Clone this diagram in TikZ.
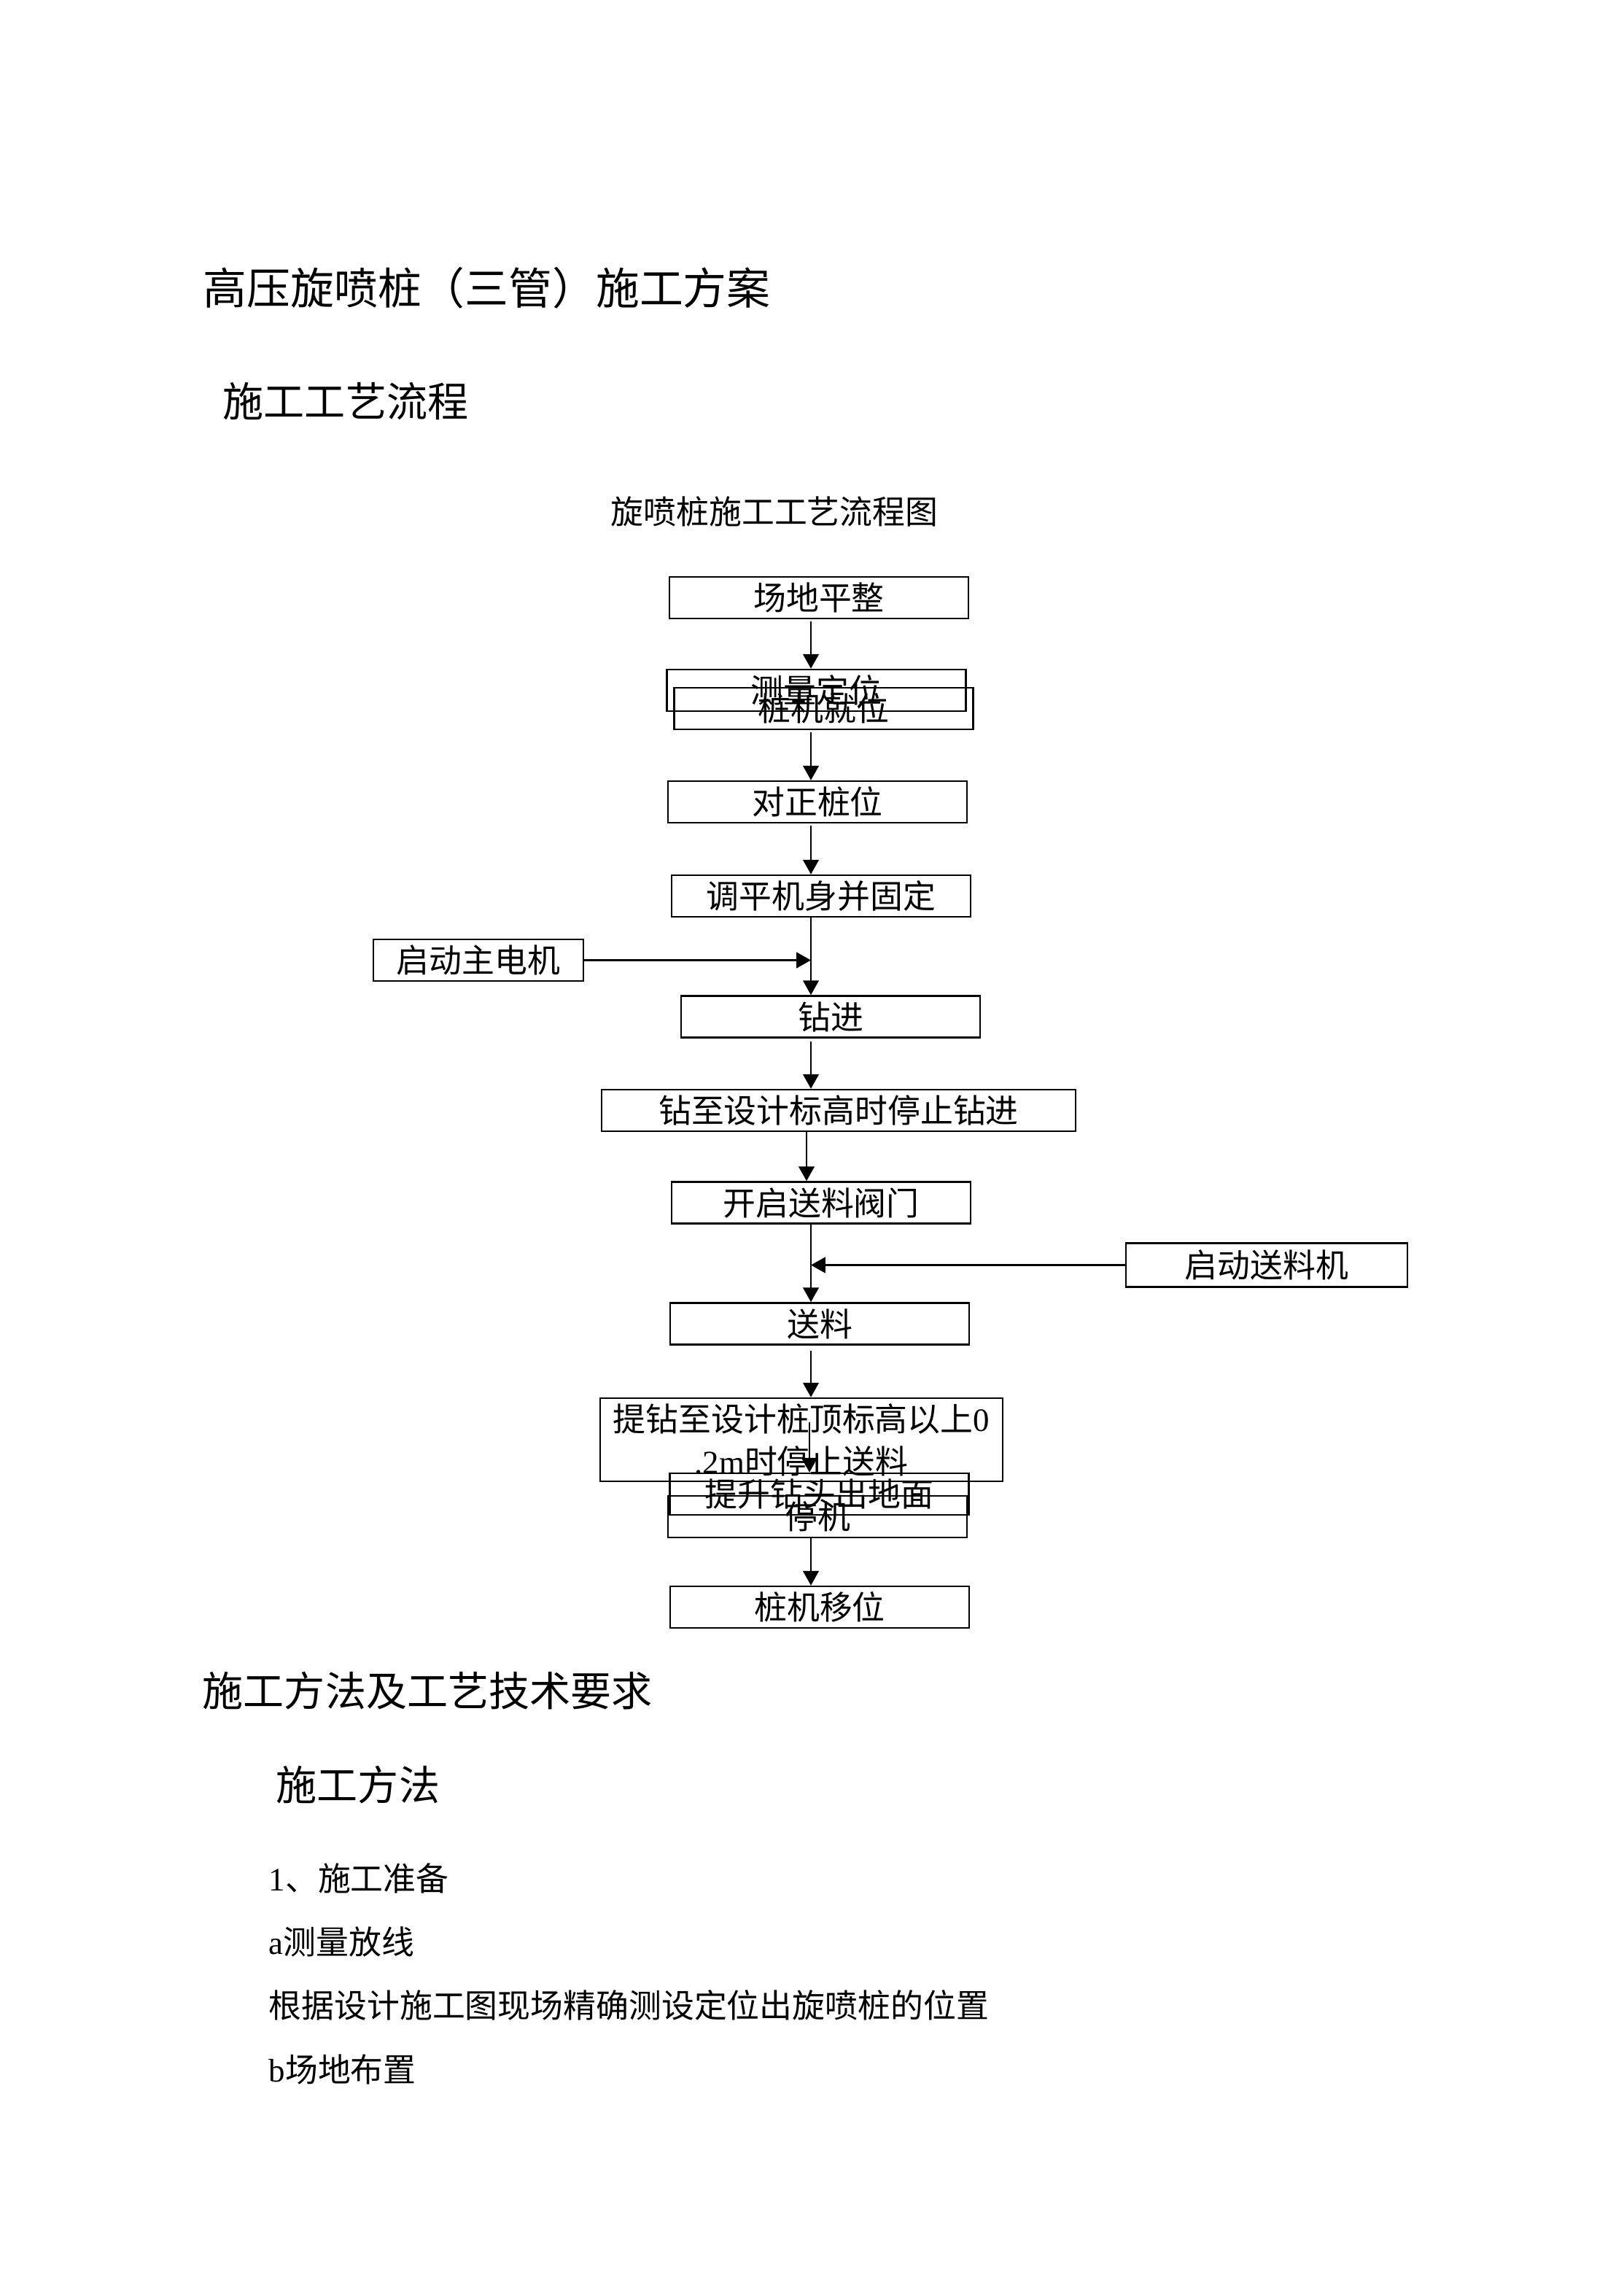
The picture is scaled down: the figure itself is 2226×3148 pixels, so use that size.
\documentclass[tikz,border=0pt]{standalone}
\usepackage{fontspec}
\setmainfont{Liberation Serif}
\newfontfamily\cjk{Noto Sans CJK SC}
\usetikzlibrary{arrows.meta}

\begin{document}
\begin{tikzpicture}[x=0.26742pt, y=-0.26742pt,
    box/.style={draw, line width=0.7pt, inner sep=0pt, minimum width=109.6pt, minimum height=15.24pt,
        font=\cjk\fontsize{12pt}{15.5pt}\selectfont},
    flow/.style={-{Triangle[length=5.3pt, width=5.8pt]}, line width=0.55pt},
    heading/.style={anchor=west, inner sep=0pt, font=\cjk\fontsize{15pt}{18pt}\selectfont},
    body/.style={anchor=west, inner sep=0pt, font=\cjk\fontsize{12pt}{15pt}\selectfont}]
    \useasboundingbox (0,0) rectangle (2226,3148);

    \node[anchor=west, inner sep=0pt, font=\cjk\fontsize{16pt}{19pt}\selectfont] (title) at (278,395) {高压旋喷桩（三管）施工方案};
    \node[heading] (process) at (305,550) {施工工艺流程};
    \node[inner sep=0pt, font=\cjk\fontsize{12pt}{15pt}\selectfont] (chart) at (1062,701) {旋喷桩施工工艺流程图};

    \node[box] (sitelevel) at (1123,819.5) {场地平整};
    \node[box] (survey) at (1119.5,946.5) {测量定位};
    \node[box] (rigpos) at (1129.5,971.5) {桩机就位};
    \node[box] (align) at (1121,1099.5) {对正桩位};
    \node[box] (level) at (1126,1228.5) {调平机身并固定};
    \node[box, minimum width=77pt] (motor) at (656,1316.5) {启动主电机};
    \node[box] (drill) at (1139,1394) {钻进};
    \node[box, minimum width=173.8pt] (stopdrill) at (1150,1522.5) {钻至设计标高时停止钻进};
    \node[box] (valve) at (1126,1649) {开启送料阀门};
    \node[box, minimum width=103.2pt, minimum height=16pt] (feeder) at (1737,1734.5) {启动送料机};
    \node[box] (feed) at (1124,1815) {送料};
    \node[box, minimum width=147.6pt, minimum height=30.5pt, align=center] (lift) at (1099,1974)
        {提钻至设计桩顶标高以上\textrm{0}\\\textrm{.2m}时停止送料};
    \node[box] (raise) at (1123.5,2048.5) {提升钻头出地面};
    \node[box] (halt) at (1121,2079.5) {停机};
    \node[box] (move) at (1124,2203.5) {桩机移位};

    \coordinate (trunk) at (1112,0);
    \coordinate (trunkb) at (1106,0);
    \coordinate (liftmid) at (1110,1950);

    \draw[flow, shorten <=0.8pt] (sitelevel.south -| trunk) -- (survey.north -| trunk);
    \draw[flow, shorten <=0.8pt] (rigpos.south -| trunk) -- (align.north -| trunk);
    \draw[flow, shorten <=0.8pt] (align.south -| trunk) -- (level.north -| trunk);
    \draw[flow] (level.south -| trunk) -- (drill.north -| trunk);
    \draw[flow] (motor.east) -- (motor.east -| trunk);
    \draw[flow, shorten <=1pt] (drill.south -| trunk) -- (stopdrill.north -| trunk);
    \draw[flow] (stopdrill.south -| trunkb) -- (valve.north -| trunkb);
    \draw[flow] (valve.south -| trunk) -- (feed.north -| trunk);
    \draw[flow] (feeder.west) -- (feeder.west -| trunk);
    \draw[flow, shorten <=2pt] (feed.south -| trunk) -- (lift.north -| trunk);
    \draw[flow] (liftmid) -- (raise.north -| liftmid);
    \draw[flow] (halt.south -| trunk) -- (move.north -| trunk);

    \node[heading] (methods) at (277,2318) {施工方法及工艺技术要求};
    \node[heading] (method) at (378,2447) {施工方法};
    \foreach \n/\y/\t in {prep/2575/{\textrm{1}、施工准备}, setout/2662/{\textrm{a}测量放线},
            setoutnote/2749/{根据设计施工图现场精确测设定位出旋喷桩的位置}, sitelayout/2837/{\textrm{b}场地布置}}
        \node[body] (\n) at (368,\y) {\t};
\end{tikzpicture}
\end{document}
